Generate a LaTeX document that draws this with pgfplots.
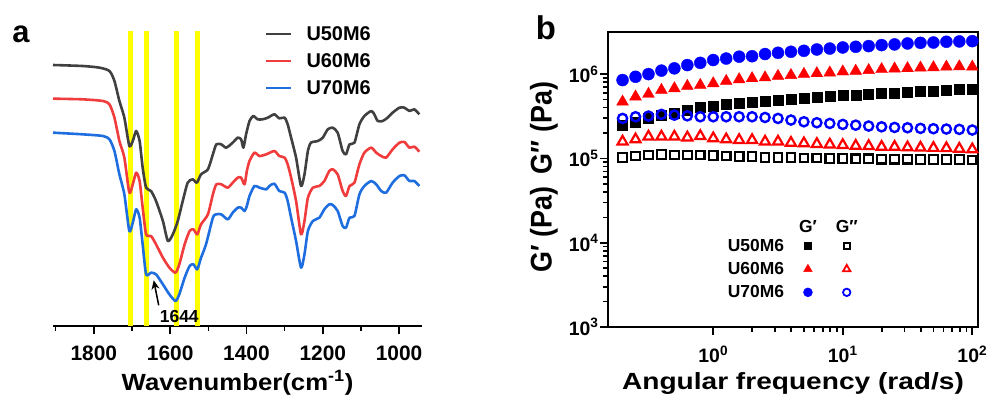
\documentclass[border=0pt]{standalone}
\usepackage{pgfplots}
\pgfplotsset{compat=1.18}
\usepackage{fontspec}
\setmainfont{Liberation Sans}
\usetikzlibrary{arrows.meta}
\definecolor{cgray}{HTML}{404040}
\definecolor{cred}{HTML}{F03C3C}
\definecolor{cblue}{HTML}{1F6EE0}
\definecolor{cyel}{HTML}{FFFF00}
\newcommand{\bfs}[1]{\bfseries\fontsize{#1}{#1}\selectfont}
\pgfplotsset{mylinelegend/.style={legend image code/.code={\draw[##1, line width=2.5bp] (0bp,0bp) -- (25bp,0bp);}}}
\begin{document}
\begin{tikzpicture}
\path[use as bounding box] (0bp,0bp) rectangle (992bp,398bp);
% ---------------- panel a ----------------
\begin{axis}[
  at={(53bp,72bp)}, anchor=south west, scale only axis,
  width=369bp, height=295bp,
  xmin=940, xmax=1907, x dir=reverse, ymin=0, ymax=885,
  axis x line*=bottom, axis y line=none,
  xtick={1000,1200,1400,1600,1800}, minor xtick={1100,1300,1500,1700,1900},
  tick align=outside, major tick length=8bp, minor tick length=5bp,
  every tick/.style={black, line width=1.6bp},
  axis line style={line width=1.8bp},
  /pgf/number format/assume math mode=true,
  /pgf/number format/1000 sep={},
  xticklabel style={font=\bfs{21}, anchor=base, yshift=-26bp},
  xlabel={\scalebox{1.1}[1]{Wavenumber(cm\textsuperscript{-1})}},
  xlabel style={font=\bfs{23.5}, at={(axis description cs:0.5,0)}, anchor=base, yshift=-64bp},
  clip=false,
  legend style={at={(0.566,1.03)}, anchor=north west, draw=none, fill=none,
    font=\bfs{20}, row sep=7.5bp, cells={anchor=west},
    /tikz/column 1/.style={column sep=12bp}},
]
\addplot[cyel, line width=5bp, forget plot] coordinates {(1705,0) (1705,885)};
\addplot[cyel, line width=5bp, forget plot] coordinates {(1663,0) (1663,885)};
\addplot[cyel, line width=5bp, forget plot] coordinates {(1583,0) (1583,885)};
\addplot[cyel, line width=5bp, forget plot] coordinates {(1528,0) (1528,885)};
\addplot[cgray, line width=2.6bp, smooth, tension=0.4, line join=round, mylinelegend] coordinates {
(1907,783) (1829,780) (1785,775) (1759,765) (1746,735) (1733,675) (1720,625)
(1707,540) (1698,555) (1689,585) (1680,555) (1672,475) (1663,415) (1650,405)
(1637,375) (1619,315) (1606,255) (1593,275) (1580,315) (1567,375) (1554,430)
(1541,440) (1530,430) (1519,455) (1501,470) (1488,515) (1479,545) (1466,545)
(1453,535) (1436,550) (1423,565) (1414,560) (1408,535) (1401,575) (1392,615)
(1382,630) (1371,620) (1358,620) (1344,625) (1327,635) (1314,623) (1300,625)
(1292,605) (1283,565) (1270,505) (1257,420) (1248,455) (1239,525) (1231,550)
(1213,555) (1200,565) (1187,590) (1174,595) (1161,580) (1148,525) (1139,515)
(1130,545) (1117,550) (1104,605) (1091,630) (1073,645) (1065,635) (1056,615)
(1043,615) (1030,625) (1017,640) (999,655) (986,655) (973,645) (960,650) (947,635)};
\addlegendentry{U50M6}
\addplot[cred, line width=2.6bp, smooth, tension=0.4, line join=round, mylinelegend] coordinates {
(1907,682) (1829,680) (1776,675) (1759,665) (1746,625) (1733,555) (1720,505)
(1707,400) (1698,425) (1689,460) (1680,435) (1672,355) (1663,275) (1650,270)
(1637,245) (1619,205) (1602,175) (1586,160) (1576,185) (1562,245) (1549,285)
(1539,290) (1529,275) (1519,305) (1501,335) (1488,395) (1479,425) (1466,425)
(1449,415) (1436,430) (1423,445) (1414,445) (1405,425) (1399,465) (1392,495)
(1379,520) (1366,510) (1348,515) (1327,525) (1314,510) (1300,505) (1292,485)
(1283,445) (1270,375) (1257,275) (1248,315) (1239,385) (1226,415) (1209,420)
(1196,435) (1183,465) (1174,470) (1161,455) (1148,405) (1139,390) (1130,420)
(1117,430) (1104,485) (1091,520) (1073,535) (1060,520) (1047,510) (1034,505)
(1017,530) (999,550) (986,552) (973,535) (960,538) (947,523)};
\addlegendentry{U60M6}
\addplot[cblue, line width=2.6bp, smooth, tension=0.4, line join=round, mylinelegend] coordinates {
(1907,580) (1829,575) (1776,570) (1759,560) (1746,525) (1733,455) (1720,395)
(1707,285) (1698,310) (1689,350) (1680,325) (1672,245) (1663,155) (1650,160)
(1637,155) (1619,125) (1602,95) (1586,75) (1576,95) (1562,145) (1549,180)
(1539,185) (1529,170) (1519,205) (1506,245) (1488,325) (1479,335) (1466,335)
(1449,320) (1436,340) (1423,355) (1414,355) (1405,345) (1399,360) (1392,390)
(1379,420) (1366,415) (1348,410) (1340,420) (1327,427) (1314,405) (1300,400)
(1292,375) (1283,325) (1270,255) (1257,175) (1248,215) (1239,285) (1226,315)
(1209,325) (1196,350) (1183,365) (1174,363) (1161,345) (1148,300) (1139,295)
(1130,325) (1117,330) (1104,395) (1091,420) (1073,435) (1060,425) (1047,405)
(1034,400) (1017,430) (999,450) (986,452) (973,435) (960,435) (947,420)};
\addlegendentry{U70M6}
\draw[-{Stealth[length=9bp,width=8bp]}, line width=1.5bp] (axis cs:1630,62) -- (axis cs:1643,137);
\node[font=\bfs{17.5}] at (axis cs:1576,30) {1644};
\end{axis}
\node[font=\bfs{31}] at (21bp,364bp) {a};
% ---------------- panel b ----------------
\begin{axis}[
  at={(608bp,71bp)}, anchor=south west, scale only axis,
  width=370bp, height=295bp,
  xmode=log, ymode=log,
  xmin=0.154, xmax=110.7, ymin=1e3, ymax=3.16e6,
  xtick={1,10,100},
  xticklabels={10\textsuperscript{0},10\textsuperscript{1},10\textsuperscript{2}},
  ytick={1e3,1e4,1e5,1e6},
  yticklabels={10\textsuperscript{3},10\textsuperscript{4},10\textsuperscript{5},10\textsuperscript{6}},
  xtick pos=bottom, ytick pos=left, tick align=outside,
  major tick length=8bp, minor tick length=5bp,
  every tick/.style={black, line width=1.6bp},
  axis line style={line width=1.8bp},
  xticklabel style={font=\bfs{19.5}, anchor=base, yshift=-28bp},
  yticklabel style={font=\bfs{19.5}, anchor=east, xshift=2bp},
  xlabel={\scalebox{1.2}[1]{Angular frequency (rad/s)}},
  xlabel style={font=\bfs{23.5}, at={(axis description cs:0.5,0)}, anchor=base, yshift=-63bp},
  ylabel={\scalebox{0.9}[1]{G′ (Pa)\hspace{14bp}G″ (Pa)}},
  ylabel style={font=\bfs{30}, at={(axis description cs:-0.173,0.508)}, anchor=center},
  clip=false,
  legend columns=3,
  legend style={at={(0.31,0.375)}, anchor=north west, draw=none, fill=none,
    font=\bfs{17.5}, row sep=5.5bp, cells={anchor=west},
    /tikz/row 1/.style={row sep=1bp},
    /tikz/column 2/.style={column sep=11bp},
    /tikz/column 4/.style={column sep=11bp}},
]
\addplot[only marks, mark=square*, black, mark size=5bp, forget plot] coordinates {
(0.1995,2.48e5) (0.2512,2.72e5) (0.3162,2.98e5) (0.3981,3.26e5) (0.5012,3.48e5)
(0.631,3.74e5) (0.7943,4.03e5) (1,4.18e5) (1.259,4.41e5) (1.585,4.57e5)
(1.995,4.7e5) (2.512,4.83e5) (3.162,4.92e5) (3.981,5.1e5) (5.012,5.24e5)
(6.31,5.38e5) (7.943,5.48e5) (10,5.58e5) (12.59,5.69e5) (15.85,5.8e5)
(19.95,5.9e5) (25.12,6.0e5) (31.62,6.1e5) (39.81,6.23e5) (50.12,6.34e5)
(63.1,6.46e5) (79.43,6.58e5) (100,6.64e5)};
\addplot[only marks, mark=triangle*, red, mark size=6.8bp, forget plot] coordinates {
(0.1995,4.7e5) (0.2512,5.4e5) (0.3162,5.8e5) (0.3981,6.46e5) (0.5012,6.76e5)
(0.631,7.2e5) (0.7943,7.4e5) (1,7.75e5) (1.259,8.26e5) (1.585,8.65e5)
(1.995,8.9e5) (2.512,9.1e5) (3.162,9.47e5) (3.981,9.7e5) (5.012,1.0e6)
(6.31,1.02e6) (7.943,1.04e6) (10,1.07e6) (12.59,1.09e6) (15.85,1.11e6)
(19.95,1.14e6) (25.12,1.16e6) (31.62,1.17e6) (39.81,1.19e6) (50.12,1.2e6)
(63.1,1.22e6) (79.43,1.23e6) (100,1.22e6)};
\addplot[only marks, mark=*, blue, mark size=6bp, forget plot] coordinates {
(0.1995,8.5e5) (0.2512,9.3e5) (0.3162,1.0e6) (0.3981,1.1e6) (0.5012,1.17e6)
(0.631,1.28e6) (0.7943,1.36e6) (1,1.47e6) (1.259,1.53e6) (1.585,1.61e6)
(1.995,1.63e6) (2.512,1.73e6) (3.162,1.79e6) (3.981,1.84e6) (5.012,1.89e6)
(6.31,1.96e6) (7.943,2.01e6) (10,2.07e6) (12.59,2.11e6) (15.85,2.15e6)
(19.95,2.21e6) (25.12,2.25e6) (31.62,2.31e6) (39.81,2.35e6) (50.12,2.37e6)
(63.1,2.42e6) (79.43,2.44e6) (100,2.46e6)};
\addplot[only marks, mark=square, black, mark size=4.3bp, line width=2.2bp,
  mark options={fill=white}, forget plot] coordinates {
(0.1995,1.03e5) (0.2512,1.07e5) (0.3162,1.10e5) (0.3981,1.11e5) (0.5012,1.10e5)
(0.631,1.10e5) (0.7943,1.10e5) (1,1.08e5) (1.259,1.07e5) (1.585,1.05e5)
(1.995,1.05e5) (2.512,1.03e5) (3.162,1.03e5) (3.981,1.02e5) (5.012,1.01e5)
(6.31,1.01e5) (7.943,1.0e5) (10,1.0e5) (12.59,0.99e5) (15.85,0.99e5)
(19.95,0.98e5) (25.12,0.98e5) (31.62,0.98e5) (39.81,0.97e5) (50.12,0.97e5)
(63.1,0.97e5) (79.43,0.97e5) (100,0.96e5)};
\addplot[only marks, mark=triangle, red, mark size=5.8bp, line width=2.2bp,
  mark options={fill=white}, forget plot] coordinates {
(0.1995,1.58e5) (0.2512,1.68e5) (0.3162,1.81e5) (0.3981,1.81e5) (0.5012,1.81e5)
(0.631,1.77e5) (0.7943,1.84e5) (1,1.73e5) (1.259,1.68e5) (1.585,1.65e5)
(1.995,1.65e5) (2.512,1.58e5) (3.162,1.58e5) (3.981,1.53e5) (5.012,1.51e5)
(6.31,1.48e5) (7.943,1.46e5) (10,1.44e5) (12.59,1.41e5) (15.85,1.40e5)
(19.95,1.37e5) (25.12,1.37e5) (31.62,1.35e5) (39.81,1.34e5) (50.12,1.33e5)
(63.1,1.32e5) (79.43,1.30e5) (100,1.28e5)};
\addplot[only marks, mark=o, blue, mark size=4.6bp, line width=2.4bp,
  mark options={fill=white}, forget plot] coordinates {
(0.1995,2.98e5) (0.2512,3.12e5) (0.3162,3.18e5) (0.3981,3.33e5) (0.5012,3.26e5)
(0.631,3.2e5) (0.7943,3.12e5) (1,3.12e5) (1.259,3.12e5) (1.585,3.12e5)
(1.995,3.12e5) (2.512,3.06e5) (3.162,2.98e5) (3.981,2.85e5) (5.012,2.72e5)
(6.31,2.65e5) (7.943,2.6e5) (10,2.53e5) (12.59,2.48e5) (15.85,2.42e5)
(19.95,2.37e5) (25.12,2.33e5) (31.62,2.31e5) (39.81,2.27e5) (50.12,2.25e5)
(63.1,2.23e5) (79.43,2.21e5) (100,2.17e5)};
% legend
\addlegendimage{empty legend}\addlegendentry{}
\addlegendimage{legend image code/.code={\path (0cm,0cm) (0.6cm,0cm); \node[anchor=center, font=\bfs{17.5}] at (0.3cm,0cm) {G′};}}\addlegendentry{}
\addlegendimage{legend image code/.code={\path (0cm,0cm) (0.6cm,0cm); \node[anchor=center, font=\bfs{17.5}] at (0.3cm,0cm) {G″};}}\addlegendentry{}
\addlegendimage{empty legend}\addlegendentry{U50M6}
\addlegendimage{only marks, mark=square*, black, mark size=3.5bp}\addlegendentry{}
\addlegendimage{only marks, mark=square, black, mark size=3bp, line width=1.8bp}\addlegendentry{}
\addlegendimage{empty legend}\addlegendentry{U60M6}
\addlegendimage{only marks, mark=triangle*, red, mark size=5bp}\addlegendentry{}
\addlegendimage{only marks, mark=triangle, red, mark size=4.3bp, line width=1.8bp}\addlegendentry{}
\addlegendimage{empty legend}\addlegendentry{U70M6}
\addlegendimage{only marks, mark=*, blue, mark size=4.5bp}\addlegendentry{}
\addlegendimage{only marks, mark=o, blue, mark size=3.7bp, line width=1.8bp}\addlegendentry{}
\end{axis}
\node[font=\bfs{33}] at (546bp,370bp) {b};
\end{tikzpicture}
\end{document}
